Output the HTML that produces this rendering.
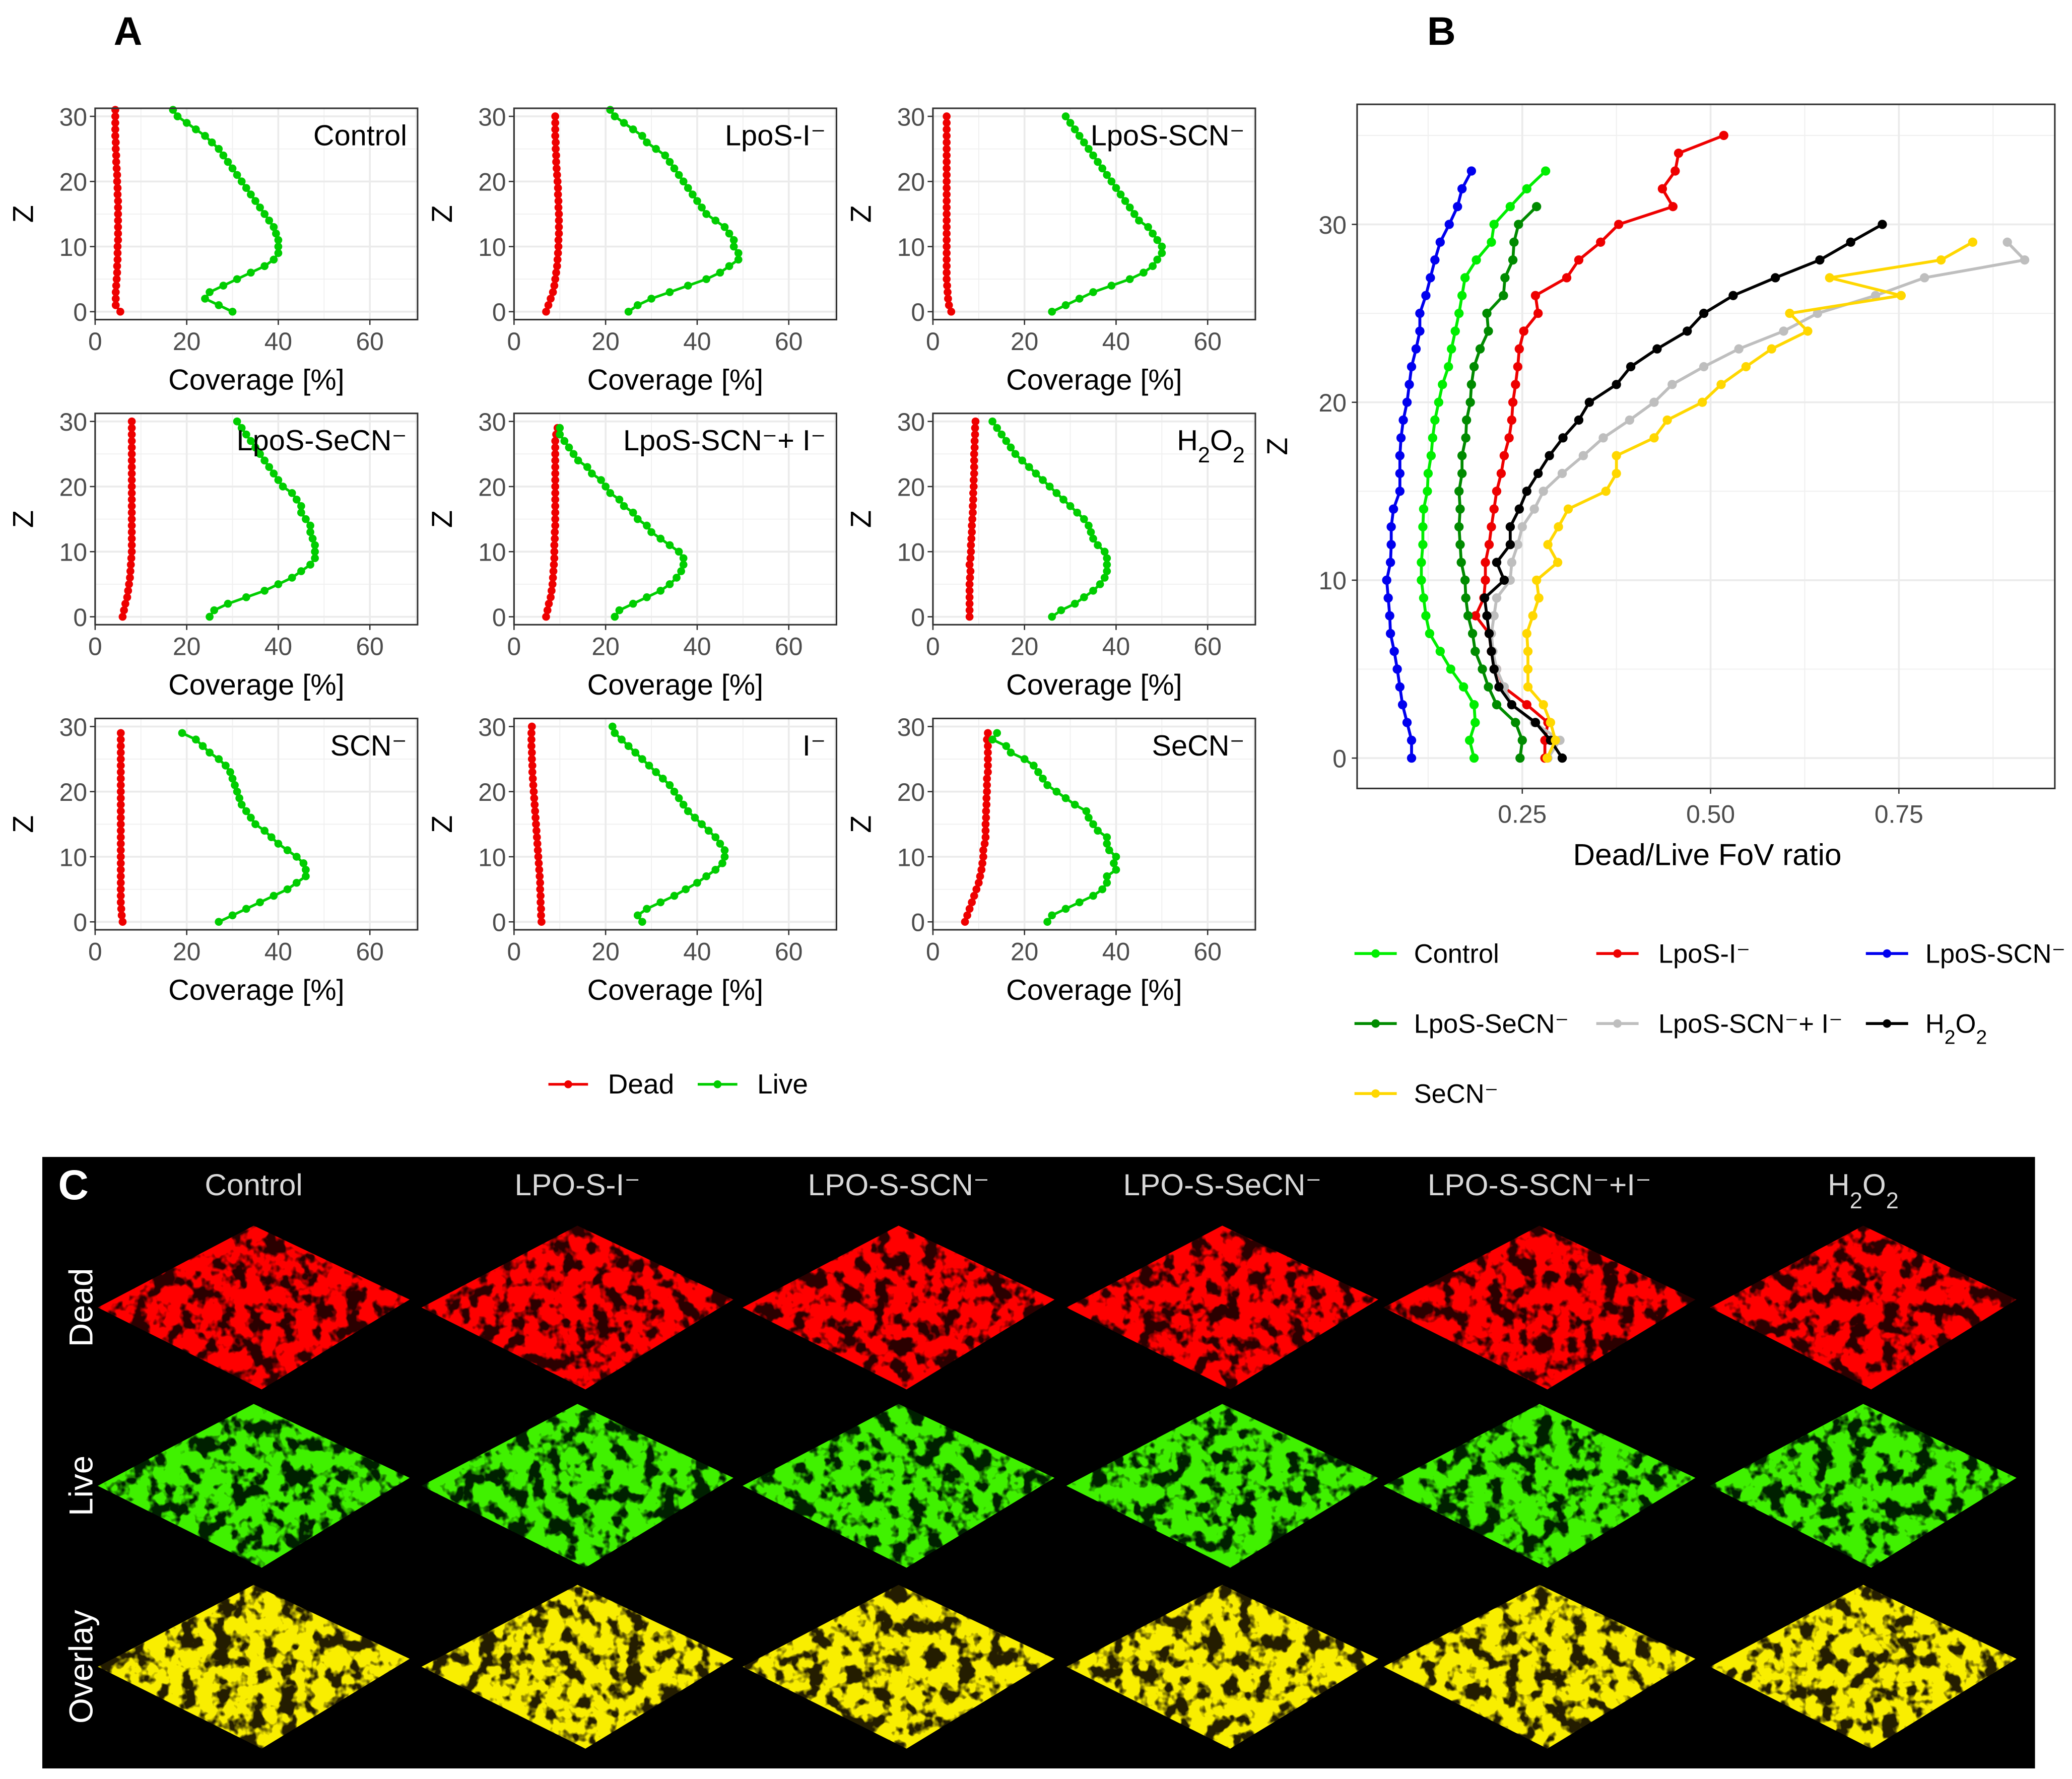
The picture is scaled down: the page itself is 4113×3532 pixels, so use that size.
<!DOCTYPE html>
<html><head><meta charset="utf-8"><style>
html,body{margin:0;padding:0;background:#fff}
svg{display:block}
text{font-family:"Liberation Sans",sans-serif}
</style></head><body>
<svg id="fig" xmlns="http://www.w3.org/2000/svg" width="4113" height="3532" viewBox="0 0 1568 1347" preserveAspectRatio="none">
<defs>
<filter id="fRed" x="0" y="0" width="1" height="1"><feTurbulence type="fractalNoise" baseFrequency="0.08" numOctaves="3" seed="3"/><feColorMatrix type="matrix" values="0 0 0 0 1  0 0 0 0 0  0 0 0 0 0  7 0 0 0 -2.6"/><feComposite operator="in" in2="SourceGraphic"/></filter>
<filter id="fGreen" x="0" y="0" width="1" height="1"><feTurbulence type="fractalNoise" baseFrequency="0.08" numOctaves="3" seed="3"/><feColorMatrix type="matrix" values="0 0 0 0 0.05  0 0 0 0 0.88  0 0 0 0 0  7 0 0 0 -2.6"/><feComposite operator="in" in2="SourceGraphic"/></filter>
<filter id="fYel" x="0" y="0" width="1" height="1"><feTurbulence type="fractalNoise" baseFrequency="0.08" numOctaves="3" seed="3"/><feColorMatrix type="matrix" values="0 0 0 0 0.95  0 0 0 0 0.85  0 0 0 0 0  7 0 0 0 -2.6"/><feComposite operator="in" in2="SourceGraphic"/></filter>
</defs>
<g id="panelA"></g>
<g id="panelB"></g>
<g id="panelC"></g>
</svg>
<script>
// ---- Panel A data (z = 0..n-1) ----
const smallTitles = ["Control","LpoS-I⁻","LpoS-SCN⁻","LpoS-SeCN⁻","LpoS-SCN⁻+ I⁻","H2O2","SCN⁻","I⁻","SeCN⁻"];
const liveControl = [30,27,24,25,28,31,34,37,39,40,40,40,39.5,39,38,37,36,35,34,33,32,31,30,29,28,27,25.5,24,22,20,18,17];
const deadControl = [5.5,4.5,4.5,4.5,4.6,4.7,4.8,4.8,4.9,4.9,4.9,5,5,5,5,5,5,5,4.9,4.9,4.8,4.8,4.7,4.6,4.6,4.5,4.5,4.4,4.4,4.4,4.4,4.4];
const liveI = [25,27,30,34,38,42,45,47,49,49,48,48,47,46,44,42,41,40,39,38,37,36,35,34,33,31,29,28,26,24,22,21];
const deadI = [7,7.5,8,8.5,8.8,9,9.2,9.4,9.5,9.6,9.7,9.7,9.8,9.8,9.8,9.8,9.7,9.7,9.6,9.6,9.5,9.4,9.3,9.2,9.2,9.1,9.1,9,9,9,9];
const liveSCN = [26,29,32,35,39,43,46,48,49,50,50,49,48,47,45,44,43,42,41,40,39,38,37,36,35,34,33,32,31,30,29];
const deadSCN = [4,3.5,3.3,3.2,3.1,3,3,3,3,3,3,3,3,3,3,3,3,3,3,3,3,3,3,3,3,3,3,3,3,3,3];
const liveSeCN2 = [25,26,29,33,37,40,43,45,47,48,48,48,47.5,47,47,46,45,45,44,43,41,40,39,38,37,36,35,34,33,32,31];
const deadSeCN2 = [6,6.3,6.6,7,7.2,7.4,7.6,7.7,7.8,7.9,8,8,8,8,8,8,8,8,8,8,8,8,8,8,8,8,8,8,8,8,8];
const liveSCNI = [22,23,26,29,32,34,35.5,36.5,37,37,36,34,32,30,29,27,26,24,23,21,20,19,17,16,14,13,12,11,10,10];
const deadSCNI = [7,7.3,7.6,8,8.2,8.4,8.5,8.6,8.7,8.8,8.8,8.8,8.9,8.9,9,9,9,9,9,9,9,9,9,9,9,9,9,9,9.2,9.5];
const liveH2O2 = [26,28,31,33,35,36.5,37.5,38,38,38,37.5,36,35,34.5,34,33,31.5,30,28.5,27,25.5,24,22.5,21,19.5,18,17,16,15,14,13];
const deadH2O2 = [8,8,8,8,8,8,8.1,8.2,8,8.2,8.3,8.3,8.4,8.5,8.5,8.6,8.7,8.7,8.8,8.8,8.9,8.9,9,9,9,9,9.1,9.1,9.2,9.2,9.3];
const liveSCN2 = [27,30,33,36,39,42,44,46,46,45.5,44,42,40,38.5,37,35,34,33,32,31.5,31,30.5,30,29.5,28.5,27,25,23.5,22,19];
const deadSCN2 = [6,5.8,5.7,5.6,5.6,5.6,5.6,5.6,5.6,5.6,5.6,5.6,5.6,5.6,5.6,5.6,5.6,5.6,5.6,5.6,5.6,5.6,5.6,5.6,5.6,5.6,5.6,5.6,5.6,5.6];
const liveI2 = [28,27,29,32,35,37.5,40,42,44,45.5,46,46,45,44,42.5,41,39.5,38,37,36,35,34,32.5,31,29.5,28,26.5,25,23.5,22,21.5];
const deadI2 = [6,5.9,5.9,5.8,5.8,5.7,5.7,5.6,5.5,5.4,5.3,5.2,5.1,5,4.9,4.8,4.7,4.6,4.5,4.4,4.3,4.2,4.1,4,4,3.9,3.9,3.8,3.8,3.8,3.9];
const liveSeCN = [25,26,29,32,35,37,38,38,40,39.5,40,38.5,38,38,36,35,34,33.5,31,29,27,25,24,23,22,20,17,16,13,14];
const deadSeCN = [7,7.5,8,8.5,9,9.5,10,10.3,10.6,10.8,11,11,11.3,11.5,11.5,11.5,11.6,11.6,11.7,11.7,11.8,11.8,11.8,12,12,12,12,12,11.8,12];
const liveSeries = [liveControl,liveI,liveSCN,liveSeCN2,liveSCNI,liveH2O2,liveSCN2,liveI2,liveSeCN];
const deadSeries = [deadControl,deadI,deadSCN,deadSeCN2,deadSCNI,deadH2O2,deadSCN2,deadI2,deadSeCN];
const xTicksA = [0,20,40,60];
const yTicksA = [0,10,20,30];

// ---- Panel B data (index = Z) ----
const bNames = ["Control","LpoS-I⁻","LpoS-SCN⁻","LpoS-SeCN⁻","LpoS-SCN⁻+ I⁻","H2O2","SeCN⁻"];
const ratioControl = [.186,.18,.1875,.186,.172,.155,.141,.127,.122,.119,.116,.116,.118,.118,.119,.124,.125,.129,.131,.134,.139,.144,.152,.156,.161,.166,.17,.174,.189,.209,.2125,.234,.256,.281];
const ratioI = [.28,.28,.284,.256,.225,.216,.209,.206,.188,.199,.201,.201,.206,.209,.2125,.216,.222,.226,.2325,.236,.2375,.241,.244,.246,.252,.271,.2675,.309,.325,.354,.378,.45,.436,.453,.4575,.5175];
const ratioSCN = [.103,.103,.097,.091,.0875,.084,.08,.075,.074,.072,.07,.075,.076,.076,.079,.0875,.0875,.0875,.089,.092,.097,.1,.103,.109,.114,.114,.122,.128,.134,.141,.153,.164,.17,.1825];
const ratioSeCN2 = [.247,.25,.241,.216,.205,.197,.1875,.184,.178,.175,.174,.169,.1675,.166,.1675,.166,.17,.17,.175,.176,.181,.1825,.186,.194,.205,.203,.225,.227,.2375,.239,.245,.269];
const ratioSCNI = [.284,.3,.266,.236,.226,.216,.211,.209,.2125,.216,.234,.236,.244,.25,.266,.278,.303,.331,.3575,.3925,.425,.449,.491,.5375,.597,.642,.719,.784,.917,.894];
const ratioH2O2 = [.303,.2875,.2675,.236,.219,.2125,.209,.206,.203,.2,.226,.216,.234,.234,.246,.256,.271,.286,.304,.325,.339,.375,.394,.429,.469,.491,.53,.586,.645,.686,.728];
const ratioSeCN = [.283,.294,.2875,.278,.2575,.2575,.2575,.256,.264,.272,.269,.297,.284,.298,.311,.361,.375,.375,.425,.4425,.489,.514,.547,.581,.629,.605,.753,.658,.806,.848];
const bSeries = [ratioControl,ratioI,ratioSCN,ratioSeCN2,ratioSCNI,ratioH2O2,ratioSeCN];
const bColors = ["#00ee00","#ee0000","#0000ee","#008b00","#bebebe","#000000","#ffd700"];
const xTicksB = [0.25,0.5,0.75];
const xTickLabelsB = ["0.25","0.50","0.75"];
const yTicksB = [0,10,20,30];

// ---- Panel C data ----
const cTitles = ["Control","LPO-S-I⁻","LPO-S-SCN⁻","LPO-S-SeCN⁻","LPO-S-SCN⁻+I⁻","H2O2"];
const cRows = ["Dead","Live","Overlay"];

const NS="http://www.w3.org/2000/svg";
function mk(tag,attrs,parent,txt){const e=document.createElementNS(NS,tag);for(const k in attrs)e.setAttribute(k,attrs[k]);if(txt!==undefined)e.textContent=txt;parent.appendChild(e);return e;}
function setH2O2(t,label){ if(label==="H2O2"){t.textContent="H";const a=document.createElementNS(NS,"tspan");a.setAttribute("baseline-shift","sub");a.setAttribute("font-size","0.75em");a.textContent="2";t.appendChild(a);const b=document.createElementNS(NS,"tspan");b.textContent="O";t.appendChild(b);const c=document.createElementNS(NS,"tspan");c.setAttribute("baseline-shift","sub");c.setAttribute("font-size","0.75em");c.textContent="2";t.appendChild(c);} else t.textContent=label; }

// ===== Panel A =====
const A=document.getElementById("panelA");
const letA=mk("text",{x:86,y:34,"font-size":30,"font-weight":"bold"},A,"A");


const colX=[72,389,706], rowY=[236,467,698];
const pxPerX=69.3/20, pxPerZ=49.3/10, boxW=244, boxH=160;
for(let i=0;i<9;i++){
  const ox=colX[i%3], oy=rowY[Math.floor(i/3)];
  const sx=v=>ox+v*pxPerX, sy=z=>oy-z*pxPerZ;
  const g=mk("g",{},A);
  
  
  const bx=ox, by=oy+6-boxH;
  mk("rect",{x:bx,y:by,width:boxW,height:boxH,fill:"#fff"},g);
  for(let v=10;v<=70;v+=20) mk("line",{x1:sx(v),x2:sx(v),y1:by,y2:by+boxH,stroke:"#f0f0f0","stroke-width":0.7},g);
  for(let z=5;z<=30;z+=10) mk("line",{x1:bx,x2:bx+boxW,y1:sy(z),y2:sy(z),stroke:"#f0f0f0","stroke-width":0.7},g);
  xTicksA.forEach(v=>{mk("line",{x1:sx(v),x2:sx(v),y1:by,y2:by+boxH,stroke:"#ebebeb","stroke-width":1.4},g);
    mk("line",{x1:sx(v),x2:sx(v),y1:by+boxH,y2:by+boxH+4,stroke:"#333","stroke-width":1},g);
    const t=mk("text",{x:sx(v),y:by+boxH+23,"font-size":19,fill:"#4d4d4d","text-anchor":"middle"},g,String(v));
    });
  yTicksA.forEach(z=>{mk("line",{x1:bx,x2:bx+boxW,y1:sy(z),y2:sy(z),stroke:"#ebebeb","stroke-width":1.4},g);
    mk("line",{x1:bx-4,x2:bx,y1:sy(z),y2:sy(z),stroke:"#333","stroke-width":1},g);
    const t=mk("text",{x:bx-6,y:sy(z)+7,"font-size":19,fill:"#4d4d4d","text-anchor":"end"},g,String(z));
    });
  [[deadSeries[i],"#ee0000","dead-series"],[liveSeries[i],"#00cd00","live-series"]].forEach(([arr,col,nm])=>{
    const s=mk("g",{},g);
    mk("polyline",{points:arr.map((v,z)=>sx(v)+","+sy(z)).join(" "),fill:"none",stroke:col,"stroke-width":2},s);
    arr.forEach((v,z)=>mk("circle",{cx:sx(v),cy:sy(z),r:3,fill:col},s));
  });
  mk("rect",{x:bx,y:by,width:boxW,height:boxH,fill:"none",stroke:"#333","stroke-width":1.2},g);
  const tt=mk("text",{x:bx+boxW-8,y:by+28,"font-size":22,"text-anchor":"end"},g);
  setH2O2(tt,smallTitles[i]);
  
  const xt=mk("text",{x:bx+boxW/2,y:by+boxH+53,"font-size":22,"text-anchor":"middle"},g,"Coverage [%]");
  
  const yt=mk("text",{x:0,y:0,"font-size":22,"text-anchor":"middle",transform:`translate(${bx-47},${by+boxH/2}) rotate(-90)`},g,"Z");
  
}
// legend A
[["Dead","#ee0000",415],["Live","#00cd00",528]].forEach(([lab,col,x])=>{
  const g=mk("g",{},A);
  mk("line",{x1:x,x2:x+30,y1:821,y2:821,stroke:col,"stroke-width":2},g);
  mk("circle",{cx:x+15,cy:821,r:3,fill:col},g);
  mk("text",{x:x+45,y:828,"font-size":21},g,lab);
});

// ===== Panel B =====
const B=document.getElementById("panelB");
const letB=mk("text",{x:1080,y:34,"font-size":30,"font-weight":"bold"},B,"B");

const bL=1027,bR=1555,bT=79,bBt=597;
const bx=v=>1009.5+v*570, by=z=>574-z*13.47;
mk("rect",{x:bL,y:bT,width:bR-bL,height:bBt-bT,fill:"#fff"},B);
[0.125,0.375,0.625,0.875].forEach(v=>mk("line",{x1:bx(v),x2:bx(v),y1:bT,y2:bBt,stroke:"#f0f0f0","stroke-width":0.8},B));
[5,15,25,35].forEach(z=>mk("line",{x1:bL,x2:bR,y1:by(z),y2:by(z),stroke:"#f0f0f0","stroke-width":0.8},B));
xTicksB.forEach((v,k)=>{mk("line",{x1:bx(v),x2:bx(v),y1:bT,y2:bBt,stroke:"#ebebeb","stroke-width":1.4},B);
  mk("line",{x1:bx(v),x2:bx(v),y1:bBt,y2:bBt+4,stroke:"#333"},B);
  const t=mk("text",{x:bx(v),y:bBt+26,"font-size":19,fill:"#4d4d4d","text-anchor":"middle"},B,xTickLabelsB[k]);
  });
yTicksB.forEach(z=>{mk("line",{x1:bL,x2:bR,y1:by(z),y2:by(z),stroke:"#ebebeb","stroke-width":1.4},B);
  mk("line",{x1:bL-4,x2:bL,y1:by(z),y2:by(z),stroke:"#333"},B);
  const t=mk("text",{x:bL-8,y:by(z)+7,"font-size":19,fill:"#4d4d4d","text-anchor":"end"},B,String(z));
  });
bSeries.forEach((arr,k)=>{
  const s=mk("g",{},B);
  mk("polyline",{points:arr.map((v,z)=>bx(v)+","+by(z)).join(" "),fill:"none",stroke:bColors[k],"stroke-width":2.2},s);
  arr.forEach((v,z)=>mk("circle",{cx:bx(v),cy:by(z),r:3.5,fill:bColors[k]},s));
});
mk("rect",{x:bL,y:bT,width:bR-bL,height:bBt-bT,fill:"none",stroke:"#333","stroke-width":1.2},B);
const bxt=mk("text",{x:1292,y:655,"font-size":23,"text-anchor":"middle"},B,"Dead/Live FoV ratio");

const byt=mk("text",{x:0,y:0,"font-size":22,"text-anchor":"middle",transform:"translate(974,338) rotate(-90)"},B,"Z");

const legPos=[[1025,722],[1208,722],[1412,722],[1025,775],[1208,775],[1412,775],[1025,828]];
bNames.forEach((n,k)=>{
  const [x,y]=legPos[k];
  const g=mk("g",{},B);
  mk("line",{x1:x,x2:x+32,y1:y,y2:y,stroke:bColors[k],"stroke-width":2.2},g);
  mk("circle",{cx:x+16,cy:y,r:3.2,fill:bColors[k]},g);
  const t=mk("text",{x:x+(k===1||k===4?47:45),y:y+7,"font-size":20},g);
  setH2O2(t,n);
});

// ===== Panel C =====
const C=document.getElementById("panelC");
const bg=mk("rect",{x:32,y:876,width:1508,height:463,fill:"#000"},C);

const letC=mk("text",{x:44,y:908,"font-size":32,"font-weight":"bold",fill:"#fff"},C,"C");

const cx=[192,437,680,925,1165,1410], cy=[990,1125,1262];
const filt=["url(#fRed)","url(#fGreen)","url(#fYel)"];
const base=["#ee0000","#00b000","#c8a000"];
cTitles.forEach((t,i)=>{
  const tt=mk("text",{x:cx[i],y:905,"font-size":23,fill:"#d8d8d8","text-anchor":"middle"},C);
  setH2O2(tt,t);
  
  cRows.forEach((r,j)=>{
    const w=i===5?116:118, h=62;
    const pts=`${cx[i]},${cy[j]-h} ${cx[i]+w},${cy[j]-6} ${cx[i]+6},${cy[j]+h} ${cx[i]-w},${cy[j]}`;
    const g=mk("g",{},C);
    mk("polygon",{points:pts,fill:base[j],opacity:0.18},g);
    mk("polygon",{points:pts,fill:"#fff",filter:filt[j]},g);
  });
});
cRows.forEach((r,j)=>{
  const t=mk("text",{x:0,y:0,"font-size":25,fill:"#fff","text-anchor":"middle",transform:`translate(70,${cy[j]}) rotate(-90)`},C,r);
  
});
</script>
</body></html>
